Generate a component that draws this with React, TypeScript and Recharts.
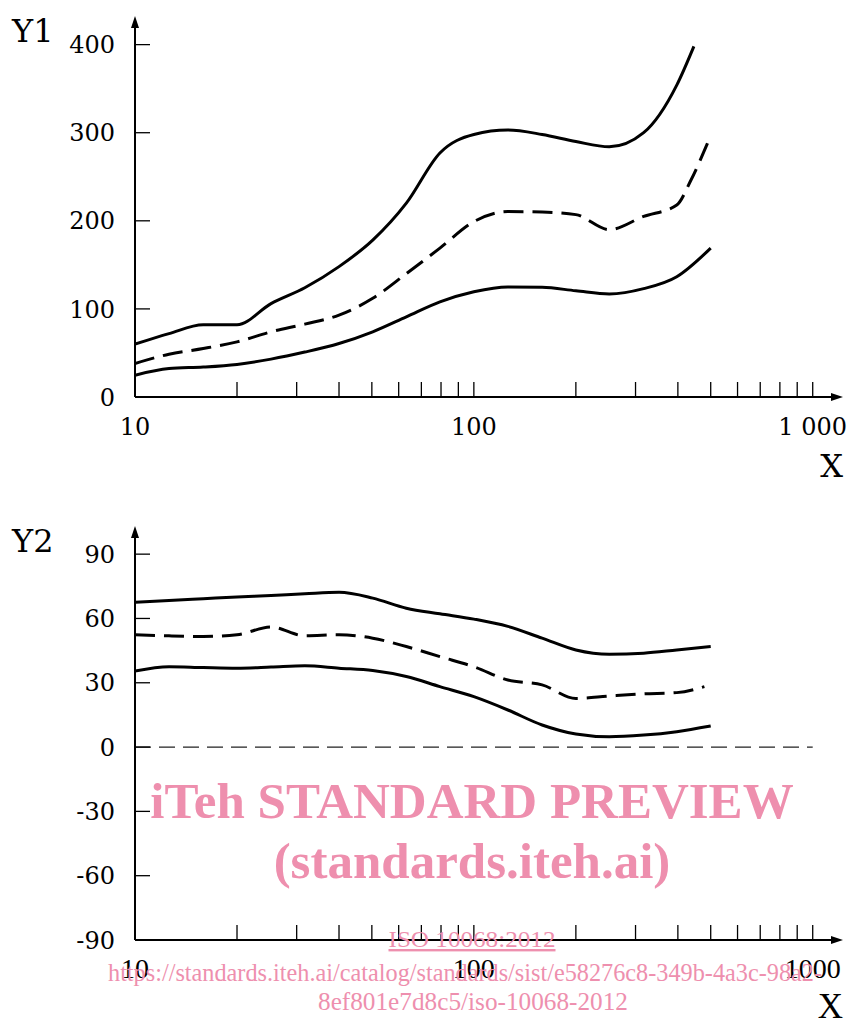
import React from "react";
import { LineChart, Line, XAxis, YAxis, ReferenceLine } from "recharts";

// log axis ticks shared by both panels
const xTicks = [10, 20, 30, 40, 50, 60, 70, 80, 90, 100, 200, 300, 400, 500, 600, 700, 800, 900, 1000];
const xLabelsTop: Record<number, string> = { 10: "10", 100: "100", 1000: "1 000" };
const xLabelsBottom: Record<number, string> = { 10: "10", 100: "100", 1000: "1000" };
const y1Ticks = [0, 100, 200, 300, 400];
const y2Ticks = [-90, -60, -30, 0, 30, 60, 90];

// sample positions (about 0.1 decade apart)
const xGrid = [10, 12.6, 15.9, 20, 25.2, 31.7, 40, 50.3, 63.2, 79.4, 100, 126, 159, 200, 251, 317, 397];

// Y1 panel
const y1UpperX = [...xGrid, 446];
const y1UpperY = [60, 72, 82, 82, 106, 124, 148, 178, 220, 277, 298, 303, 298, 290, 284, 300, 354, 398];
const y1MidX = [...xGrid, 437, 489];
const y1MidY = [38, 48.6, 55, 62.6, 74, 82.7, 93, 112, 140, 169, 199, 210.5, 210, 207, 190, 205, 218, 246, 288];
const y1LowerX = [...xGrid, 500];
const y1LowerY = [24.7, 32.3, 34, 37, 43, 51, 60.7, 74, 91, 108, 119.5, 125, 124.5, 120.6, 117, 123, 136.5, 169];

// Y2 panel
const y2UpperX = [...xGrid, 500];
const y2UpperY = [67.5, 68.4, 69.2, 70, 70.7, 71.5, 72.2, 69.5, 64.8, 62.2, 59.7, 56.3, 50.8, 45.3, 43.3, 43.8, 45.3, 46.9];
const y2MidX = [...xGrid, 479];
const y2MidY = [52.4, 51.9, 51.6, 52.4, 56, 51.9, 52.4, 50.8, 46.9, 42.2, 37.5, 31.3, 29, 22.7, 23.8, 24.8, 25.4, 28.2];
const y2LowerX = [...xGrid, 500];
const y2LowerY = [35.5, 37.5, 37.1, 36.8, 37.3, 37.9, 36.8, 35.7, 32.9, 28.2, 23.5, 17.3, 10.3, 6.1, 4.8, 5.6, 7.2, 9.8];

const toPoints = (xs: number[], ys: number[]) => xs.map((x, i) => ({ x, y: ys[i] }));

const SERIF = "'DejaVu Serif', serif";
const TIMES = "'Liberation Serif', 'Times New Roman', serif";
const PINK = "#ee8fae";

function makeXTick(labels: Record<number, string>, font: string, size: number) {
  return (props: any) => {
    const { x, y, payload } = props;
    const label = labels[payload.value];
    return (
      <g>
        <line x1={x} x2={x} y1={y} y2={y - 15} stroke="#000" strokeWidth={1.3} />
        {label && (
          <text x={x} y={y + 38} textAnchor="middle" fontFamily={font} fontSize={size} fill="#000">
            {label}
          </text>
        )}
      </g>
    );
  };
}

const YTick = (props: any) => {
  const { x, y, payload } = props;
  return (
    <g>
      <line x1={x} x2={x + 15} y1={y} y2={y} stroke="#000" strokeWidth={1.3} />
      <text x={x - 20} y={y} dy="0.36em" textAnchor="end" fontFamily={SERIF} fontSize={24} fill="#000">
        {payload.value}
      </text>
    </g>
  );
};

const TopXTick = makeXTick(xLabelsTop, SERIF, 24);
const BottomXTick = makeXTick(xLabelsBottom, TIMES, 28);

const xAxisLine = { stroke: "#000", strokeWidth: 2, markerEnd: "url(#axisArrow)" };
const yAxisLine = { stroke: "#000", strokeWidth: 2, markerStart: "url(#axisArrow)" };

export default function App() {
  return (
    <div style={{ position: "absolute", left: 0, top: 0, width: 851, height: 1026, background: "#fff" }}>
      <div style={{ position: "absolute", left: 0, top: 0 }}>
        <LineChart width={851} height={500} margin={{ top: 27, right: 19, bottom: 43, left: 55 }}>
          <XAxis
            type="number"
            dataKey="x"
            scale="log"
            domain={[10, 1140]}
            allowDataOverflow
            ticks={xTicks}
            interval={0}
            tickSize={0}
            tickMargin={0}
            tickLine={false}
            tick={TopXTick}
            axisLine={xAxisLine}
            height={60}
          />
          <YAxis
            type="number"
            domain={[0, 420]}
            allowDataOverflow
            ticks={y1Ticks}
            interval={0}
            tickSize={0}
            tickMargin={0}
            tickLine={false}
            tick={YTick}
            axisLine={yAxisLine}
            width={80}
          />
          <Line data={toPoints(y1UpperX, y1UpperY)} dataKey="y" type="monotone" stroke="#000" strokeWidth={3} dot={false} activeDot={false} isAnimationActive={false} />
          <Line data={toPoints(y1MidX, y1MidY)} dataKey="y" type="monotone" stroke="#000" strokeWidth={3} strokeDasharray="20 9" dot={false} activeDot={false} isAnimationActive={false} />
          <Line data={toPoints(y1LowerX, y1LowerY)} dataKey="y" type="monotone" stroke="#000" strokeWidth={3} dot={false} activeDot={false} isAnimationActive={false} />
        </LineChart>
      </div>

      <div style={{ position: "absolute", left: 0, top: 500 }}>
        <LineChart width={851} height={526} margin={{ top: 37, right: 19, bottom: 26, left: 55 }}>
          <XAxis
            type="number"
            dataKey="x"
            scale="log"
            domain={[10, 1140]}
            allowDataOverflow
            ticks={xTicks}
            interval={0}
            tickSize={0}
            tickMargin={0}
            tickLine={false}
            tick={BottomXTick}
            axisLine={xAxisLine}
            height={60}
          />
          <YAxis
            type="number"
            domain={[-90, 98]}
            allowDataOverflow
            ticks={y2Ticks}
            interval={0}
            tickSize={0}
            tickMargin={0}
            tickLine={false}
            tick={YTick}
            axisLine={yAxisLine}
            width={80}
          />
          <ReferenceLine
            segment={[{ x: 10, y: 0 }, { x: 1000, y: 0 }]}
            stroke="#222"
            strokeWidth={1.3}
            strokeDasharray="16 8"
          />
          <Line data={toPoints(y2UpperX, y2UpperY)} dataKey="y" type="monotone" stroke="#000" strokeWidth={3} dot={false} activeDot={false} isAnimationActive={false} />
          <Line data={toPoints(y2MidX, y2MidY)} dataKey="y" type="monotone" stroke="#000" strokeWidth={3} strokeDasharray="20 9" dot={false} activeDot={false} isAnimationActive={false} />
          <Line data={toPoints(y2LowerX, y2LowerY)} dataKey="y" type="monotone" stroke="#000" strokeWidth={3} dot={false} activeDot={false} isAnimationActive={false} />
        </LineChart>
      </div>

      <svg width={851} height={1026} style={{ position: "absolute", left: 0, top: 0, pointerEvents: "none" }}>
        <defs>
          <marker id="axisArrow" viewBox="0 0 12 8" refX="1" refY="4" markerWidth="12" markerHeight="8" markerUnits="userSpaceOnUse" orient="auto-start-reverse">
            <path d="M0,0 L12,4 L0,8 z" fill="#000" />
          </marker>
        </defs>
        <text x={12} y={42} fontFamily={SERIF} fontSize={32} fill="#000">Y1</text>
        <text x={843} y={477} textAnchor="end" fontFamily={SERIF} fontSize={32} fill="#000">X</text>
        <text x={12} y={552} fontFamily={SERIF} fontSize={32} fill="#000">Y2</text>
        <text x={843} y={1018} textAnchor="end" fontFamily={TIMES} fontSize={35} fill="#000">X</text>

        <text x={472} y={818} textAnchor="middle" fontFamily={TIMES} fontWeight="bold" fontSize={51} fill={PINK}>
          iTeh STANDARD PREVIEW
        </text>
        <text x={472} y={878} textAnchor="middle" fontFamily={TIMES} fontWeight="bold" fontSize={51} fill={PINK}>
          (standards.iteh.ai)
        </text>
        <text x={472} y={947} textAnchor="middle" fontFamily={TIMES} fontSize={24} fill={PINK} textLength={167} lengthAdjust="spacingAndGlyphs" textDecoration="underline">
          ISO 10068:2012
        </text>
        <text x={465} y={981} textAnchor="middle" fontFamily={TIMES} fontSize={25} fill={PINK} textLength={714} lengthAdjust="spacingAndGlyphs">
          https://standards.iteh.ai/catalog/standards/sist/e58276c8-349b-4a3c-98a2-
        </text>
        <text x={473} y={1010} textAnchor="middle" fontFamily={TIMES} fontSize={25} fill={PINK} textLength={310} lengthAdjust="spacingAndGlyphs">
          8ef801e7d8c5/iso-10068-2012
        </text>
      </svg>
    </div>
  );
}
